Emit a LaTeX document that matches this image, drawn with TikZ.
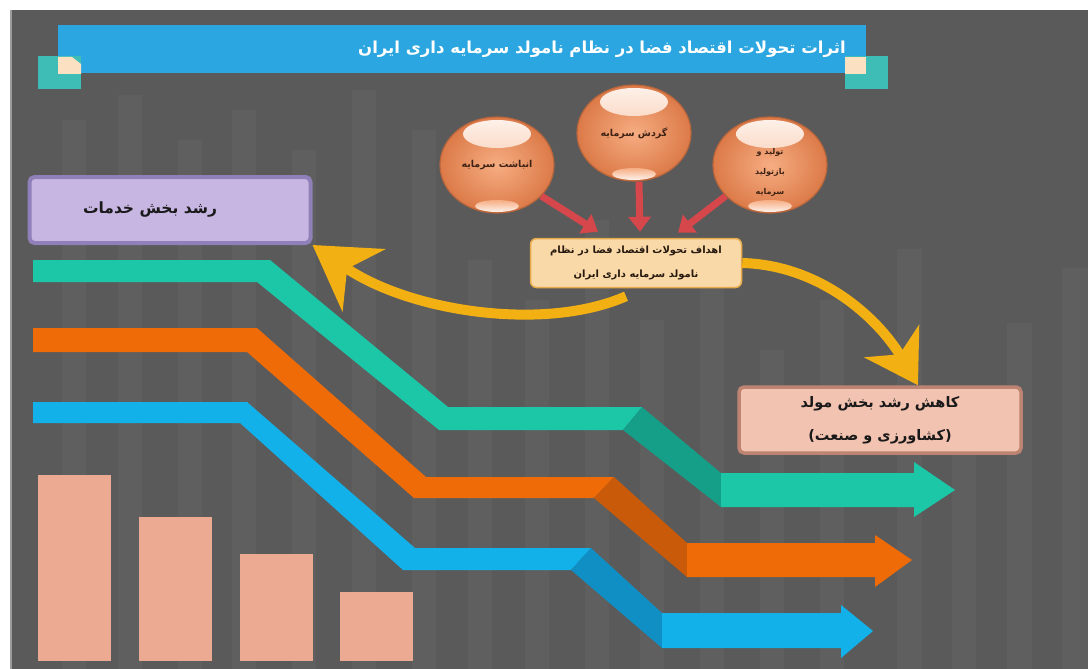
\documentclass[tikz,border=0pt]{standalone}
\usepackage{fontspec}
\usetikzlibrary{arrows.meta,shapes.geometric}
\TeXXeTstate=1
\newfontfamily\arabicfont[Script=Arabic]{DejaVu Sans}

\definecolor{bgcol}{HTML}{5A5A5A}
\definecolor{stripecol}{HTML}{5F5F5F}
\definecolor{edgecol}{HTML}{9C9C9C}
\definecolor{titleblue}{HTML}{2BA6E0}
\definecolor{cornerteal}{HTML}{3DBDB6}
\definecolor{cornercream}{HTML}{FBE0C2}
\definecolor{bubin}{HTML}{F6AD82}
\definecolor{bubout}{HTML}{DC7A48}
\definecolor{bubrim}{HTML}{B9663C}
\definecolor{bubtext}{HTML}{3E2214}
\definecolor{redcol}{HTML}{D6474C}
\definecolor{goldcol}{HTML}{F2B012}
\definecolor{goalfill}{HTML}{FAD9A9}
\definecolor{goaldraw}{HTML}{E6A94A}
\definecolor{servfill}{HTML}{C8B6E2}
\definecolor{servdraw}{HTML}{9080B9}
\definecolor{prodfill}{HTML}{F3C3B1}
\definecolor{proddraw}{HTML}{BD8473}
\definecolor{tealcol}{HTML}{1CC7A8}
\definecolor{tealdark}{HTML}{159E88}
\definecolor{orangecol}{HTML}{EE6B08}
\definecolor{orangedark}{HTML}{C85A0A}
\definecolor{bluecol}{HTML}{13B1EA}
\definecolor{bluedark}{HTML}{0F8FC4}
\definecolor{barcol}{HTML}{ECAA92}

\tikzset{
  bubble/.style={ellipse, minimum width=114pt, minimum height=96pt, inner sep=0pt,
    inner color=bubin, outer color=bubout, draw=bubrim, line width=1.2pt,
    text=bubtext, align=center, font=\arabicfont\bfseries\fontsize{9.5}{19}\selectfont,
    path picture={
      \shade[top color=white!85!bubin, bottom color=bubin] ([yshift=31pt]path picture bounding box.center) ellipse (34pt and 14pt);
      \shade[top color=bubin, bottom color=white!85!bubin] ([yshift=-41pt]path picture bounding box.center) ellipse (22pt and 6pt);
    }},
  goalbox/.style={rectangle, rounded corners=6pt, fill=goalfill, draw=goaldraw, line width=1.5pt,
    minimum width=211pt, minimum height=49pt, inner sep=0pt, align=center,
    text=black!80!brown, font=\arabicfont\bfseries\fontsize{10}{24}\selectfont},
  servbox/.style={rectangle, rounded corners=5pt, fill=servfill, draw=servdraw, line width=4pt,
    minimum width=281pt, minimum height=66pt, inner sep=0pt,
    text=black!90, font=\arabicfont\bfseries\fontsize{15.5}{18}\selectfont},
  prodbox/.style={rectangle, rounded corners=5pt, fill=prodfill, draw=proddraw, line width=3.5pt,
    minimum width=282pt, minimum height=66pt, inner sep=0pt, align=center,
    text=black!90, font=\arabicfont\bfseries\fontsize{14.5}{33}\selectfont},
  redarrow/.style={draw=redcol, line width=7pt, -{Triangle[length=15pt,width=22pt]}},
  goldarrow/.style={draw=goldcol, line width=10pt},
}

\begin{document}
\begin{tikzpicture}[x=1pt,y=-1pt]
\useasboundingbox (0,0) rectangle (1088,669);

% Drawing page margin and background
\fill[white] (0,0) rectangle (1088,669);%
\fill[bgcol] (10,10) rectangle (1088,669);%
\draw[edgecol, line width=2pt] (11,10) -- (11,669);%

% Drawing faint background columns
\fill[stripecol] (62,120) rectangle (86,669);%
\fill[stripecol] (118,95) rectangle (142,669);%
\fill[stripecol] (178,140) rectangle (202,669);%
\fill[stripecol] (232,110) rectangle (256,669);%
\fill[stripecol] (292,150) rectangle (316,669);%
\fill[stripecol] (352,90) rectangle (376,669);%
\fill[stripecol] (412,130) rectangle (436,669);%
\fill[stripecol] (468,260) rectangle (492,669);%
\fill[stripecol] (525,300) rectangle (549,669);%
\fill[stripecol] (585,220) rectangle (609,669);%
\fill[stripecol] (640,320) rectangle (664,669);%
\fill[stripecol] (700,280) rectangle (724,669);%
\fill[stripecol] (760,350) rectangle (784,669);%
\fill[stripecol] (820,300) rectangle (844,669);%
\fill[stripecol] (897,249) rectangle (922,669);%
\fill[stripecol] (952,420) rectangle (976,669);%
\fill[stripecol] (1007,323) rectangle (1032,669);%
\fill[stripecol] (1062,268) rectangle (1088,669);%

% Drawing title bar
\fill[titleblue] (58,25) rectangle (866,73);%
\fill[cornerteal] (38,56) rectangle (81,89);%
\fill[cornercream] (58,57) -- (72,57) -- (81,64) -- (81,74) -- (58,74) -- cycle;%
\fill[cornerteal] (845,56) rectangle (888,89);%
\fill[cornercream] (845,57) -- (866,57) -- (866,74) -- (845,74) -- cycle;%
\node[anchor=east, text=white, font=\arabicfont\bfseries\fontsize{16.5}{20}\selectfont, inner sep=0pt] (title) at (846,49)
  {\beginR اثرات تحولات اقتصاد فضا در نظام نامولد سرمایه داری ایران\endR};%

% Drawing bars
\fill[barcol] (38,475) rectangle (111,661);%
\fill[barcol] (139,517) rectangle (212,661);%
\fill[barcol] (240,554) rectangle (313,661);%
\fill[barcol] (340,592) rectangle (413,661);%

% Drawing teal stair arrow
\fill[tealcol] (33,260) -- (270,260) -- (448,407) -- (642,407) -- (623,430) -- (439,430) -- (257,282) -- (33,282) -- cycle;%
\fill[tealdark] (642,407) -- (721,473) -- (721,507) -- (623,430) -- cycle;%
\fill[tealcol] (721,473) -- (914,473) -- (914,462) -- (955,490) -- (914,517) -- (914,507) -- (721,507) -- cycle;%

% Drawing orange stair arrow
\fill[orangecol] (33,328) -- (257,328) -- (426,477) -- (614,477) -- (594,498) -- (414,498) -- (247,352) -- (33,352) -- cycle;%
\fill[orangedark] (614,477) -- (687,543) -- (687,577) -- (594,498) -- cycle;%
\fill[orangecol] (687,543) -- (875,543) -- (875,535) -- (912,560) -- (875,587) -- (875,577) -- (687,577) -- cycle;%

% Drawing blue stair arrow
\fill[bluecol] (33,402) -- (247,402) -- (415,548) -- (591,548) -- (571,570) -- (403,570) -- (240,423) -- (33,423) -- cycle;%
\fill[bluedark] (591,548) -- (662,613) -- (662,648) -- (571,570) -- cycle;%
\fill[bluecol] (662,613) -- (841,613) -- (841,605) -- (873,631) -- (841,658) -- (841,648) -- (662,648) -- cycle;%

% Marking bubbles
\node[bubble] (accum) at (497,165) {\beginR انباشت سرمایه\endR};%
\node[bubble] (growth) at (634,133) {\beginR گردش سرمایه\endR};%
\node[bubble, font=\arabicfont\bfseries\fontsize{8}{20}\selectfont] (reprod) at (770,165) {\mbox{}\\\beginR تولید و\endR\\\beginR بازتولید\endR\\\beginR سرمایه\endR};%

% Marking boxes
\node[servbox] (services) at (170,210) {\beginR رشد بخش خدمات\endR\hspace*{40pt}};%
\node[prodbox] (productive) at (880,420) {\beginR کاهش رشد بخش مولد\endR\\\beginR (کشاورزی  و صنعت)\endR};%
\node[goalbox] (goal) at (636,263) {\beginR اهداف تحولات اقتصاد فضا در نظام\endR\\\beginR نامولد سرمایه داری ایران\endR};%

% Drawing golden arrows
\draw[goldarrow, -{Stealth[length=62pt,width=75pt,inset=20pt]}] ([xshift=-10pt,yshift=-8pt]goal.south) .. controls (545,332) and (410,312) .. (services.south east);%
\draw[goldarrow, -{Stealth[length=51pt,width=63pt,inset=15pt]}] (goal.east) .. controls (820,265) and (878,318) .. ([xshift=38pt]productive.north);%

% Drawing red arrows
\draw[redarrow] (accum.-35) -- ([xshift=-38pt,yshift=6pt]goal.north);%
\draw[redarrow] ([xshift=5pt]growth.south) -- ([xshift=4pt,yshift=6pt]goal.north);%
\draw[redarrow] (reprod.-145) -- ([xshift=42pt,yshift=5pt]goal.north);%
\end{tikzpicture}
\end{document}
